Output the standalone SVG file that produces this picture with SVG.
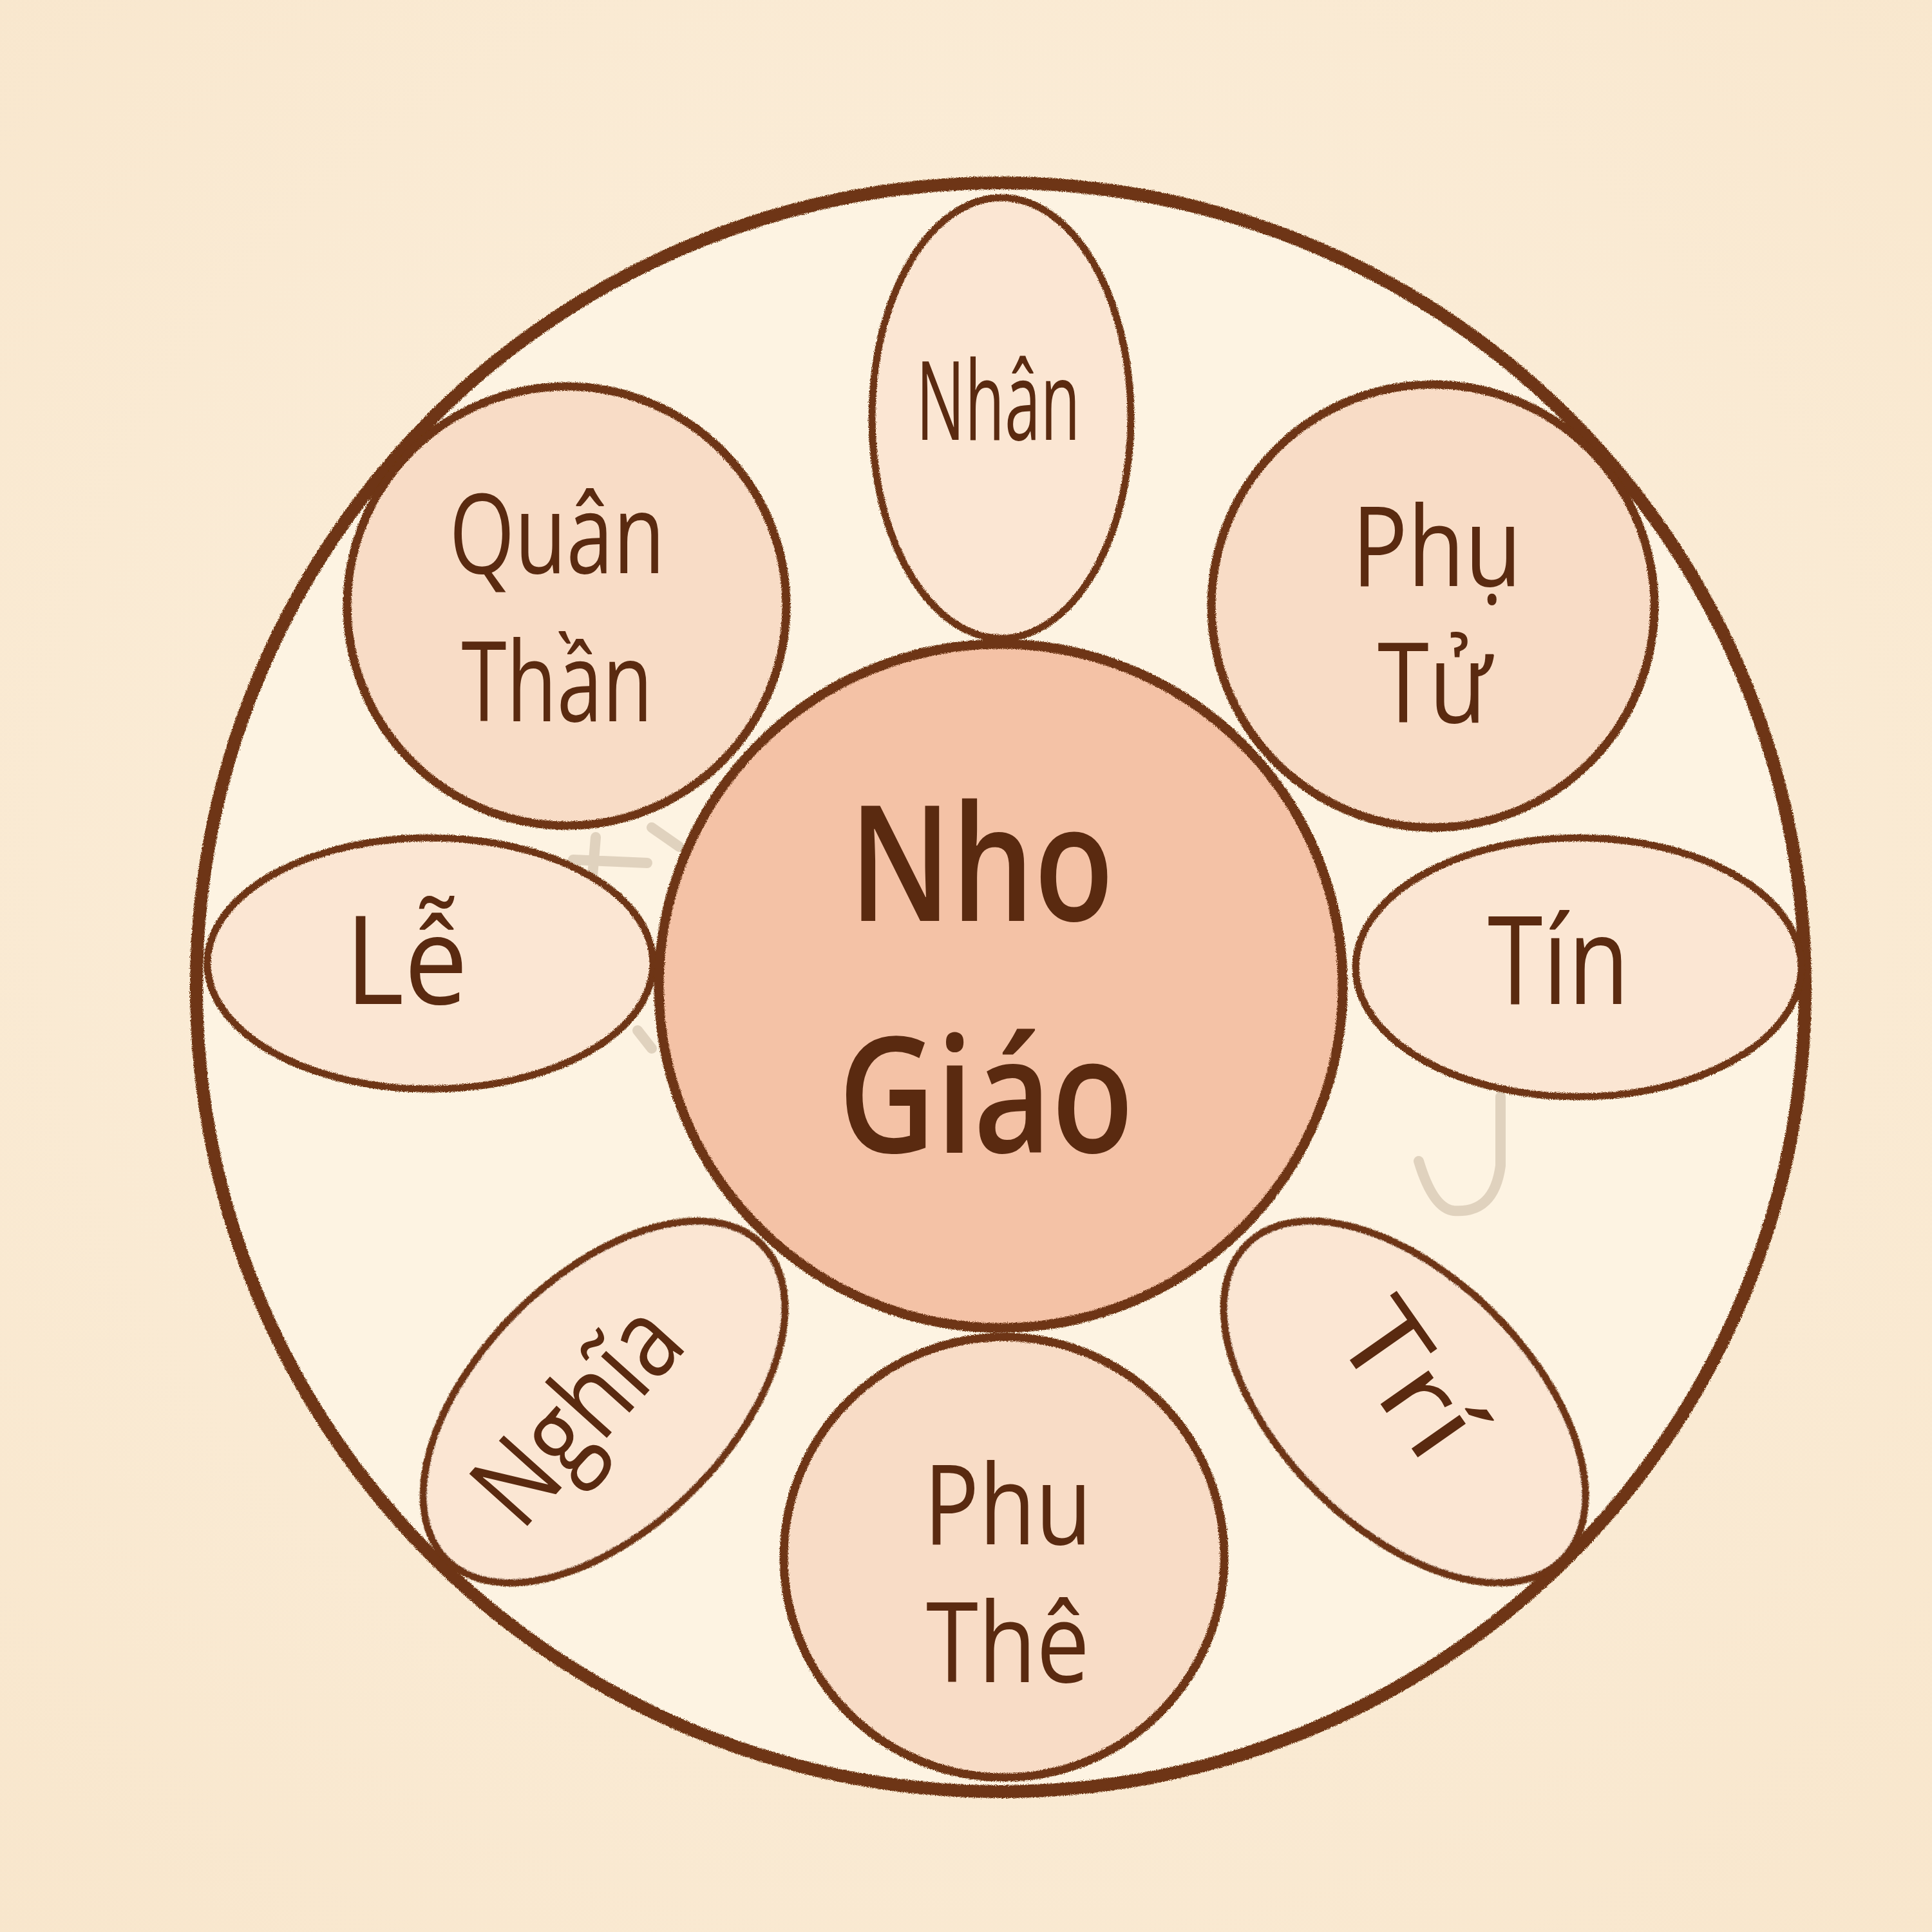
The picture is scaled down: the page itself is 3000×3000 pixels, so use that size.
<svg xmlns="http://www.w3.org/2000/svg" width="3000" height="3000" viewBox="0 0 3000 3000">
<defs>
<radialGradient id="bg" cx="50%" cy="45%" r="75%">
<stop offset="0" stop-color="#fdf1df"/>
<stop offset="1" stop-color="#f8e6cc"/>
</radialGradient>
<filter id="crayon" x="-5%" y="-5%" width="110%" height="110%">
<feTurbulence type="fractalNoise" baseFrequency="0.9" numOctaves="2" seed="3" result="n"/>
<feDisplacementMap in="SourceGraphic" in2="n" scale="6" xChannelSelector="R" yChannelSelector="G"/>
</filter>
<style>
.outer{fill:#fdf3e2;stroke:#6e3612;stroke-width:20}
.node{fill:#f8dcc6;stroke:#6e3612;stroke-width:13}
.light{fill:#fbe6d3;stroke:#6e3612;stroke-width:11}
.core{fill:#f4c2a6;stroke:#6e3612;stroke-width:15}
.ghost{fill:none;stroke:#cdbda6;stroke-width:16;stroke-linecap:round;opacity:0.6}
.t{font-family:"Open Sans","Noto Sans","DejaVu Sans",sans-serif;fill:#5a2a10;text-anchor:middle;font-weight:400}
.s{font-size:172px}
.m{font-size:170px}
.l{font-size:190px}
.b{font-size:250px;font-weight:600}
</style>
</defs>
<rect width="3000" height="3000" fill="url(#bg)"/>
<g id="outer-ring" filter="url(#crayon)">
<circle class="outer" cx="1554" cy="1533" r="1249"/>
</g>
<g id="ghost-marks">
<path class="ghost" d="M2330 1703 L2330 1810 Q2320 1885 2257 1880 Q2225 1876 2203 1803"/>
<path class="ghost" d="M890 1335 L1005 1340 M925 1300 L920 1360 M1012 1285 L1055 1315 M990 1600 L1012 1628"/>
</g>
<g id="node-nhan">
<ellipse class="light" cx="1555" cy="649" rx="201" ry="342" filter="url(#crayon)"/>
<text class="t m" x="1550" y="683" textLength="255" lengthAdjust="spacingAndGlyphs">Nhân</text>
</g>
<g id="node-quan-than">
<circle class="node" cx="880" cy="941" r="341" filter="url(#crayon)"/>
<text class="t s" x="865" y="890" textLength="335" lengthAdjust="spacingAndGlyphs">Quân</text>
<text class="t s" x="865" y="1120" textLength="297" lengthAdjust="spacingAndGlyphs">Thần</text>
</g>
<g id="node-phu-tu">
<circle class="node" cx="2225" cy="941" r="344" filter="url(#crayon)"/>
<text class="t s" x="2231" y="910" textLength="264" lengthAdjust="spacingAndGlyphs">Phụ</text>
<text class="t s" x="2227" y="1122" textLength="176" lengthAdjust="spacingAndGlyphs">Tử</text>
</g>
<g id="node-le">
<ellipse class="light" cx="668" cy="1496" rx="346" ry="195" filter="url(#crayon)"/>
<text class="t l" x="631" y="1559" textLength="191" lengthAdjust="spacingAndGlyphs">Lễ</text>
</g>
<g id="node-tin">
<ellipse class="light" cx="2451" cy="1502" rx="346" ry="201" filter="url(#crayon)"/>
<text class="t l" x="2420" y="1559" textLength="220" lengthAdjust="spacingAndGlyphs">Tín</text>
</g>
<g id="node-nghia">
<ellipse class="light" cx="938" cy="2177" rx="346" ry="195" transform="rotate(-45 938 2177)" filter="url(#crayon)"/>
<text class="t m" x="0" y="0" textLength="390" lengthAdjust="spacingAndGlyphs" transform="translate(940 2235) rotate(-48)">Nghĩa</text>
</g>
<g id="node-tri">
<ellipse class="light" cx="2181" cy="2177" rx="346" ry="195" transform="rotate(45 2181 2177)" filter="url(#crayon)"/>
<text class="t m" x="0" y="0" textLength="250" lengthAdjust="spacingAndGlyphs" transform="translate(2140 2175) rotate(55)">Trí</text>
</g>
<g id="node-phu-the">
<circle class="node" cx="1559" cy="2418" r="342" filter="url(#crayon)"/>
<text class="t s" x="1565" y="2398" textLength="261" lengthAdjust="spacingAndGlyphs">Phu</text>
<text class="t s" x="1565" y="2612" textLength="254" lengthAdjust="spacingAndGlyphs">Thê</text>
</g>
<g id="node-nho-giao">
<circle class="core" cx="1554" cy="1531" r="531" filter="url(#crayon)"/>
<text class="t b" x="1524" y="1430" textLength="411" lengthAdjust="spacingAndGlyphs">Nho</text>
<text class="t b" x="1531" y="1790" textLength="459" lengthAdjust="spacingAndGlyphs">Giáo</text>
</g>
<g id="connectors"></g>
</svg>
